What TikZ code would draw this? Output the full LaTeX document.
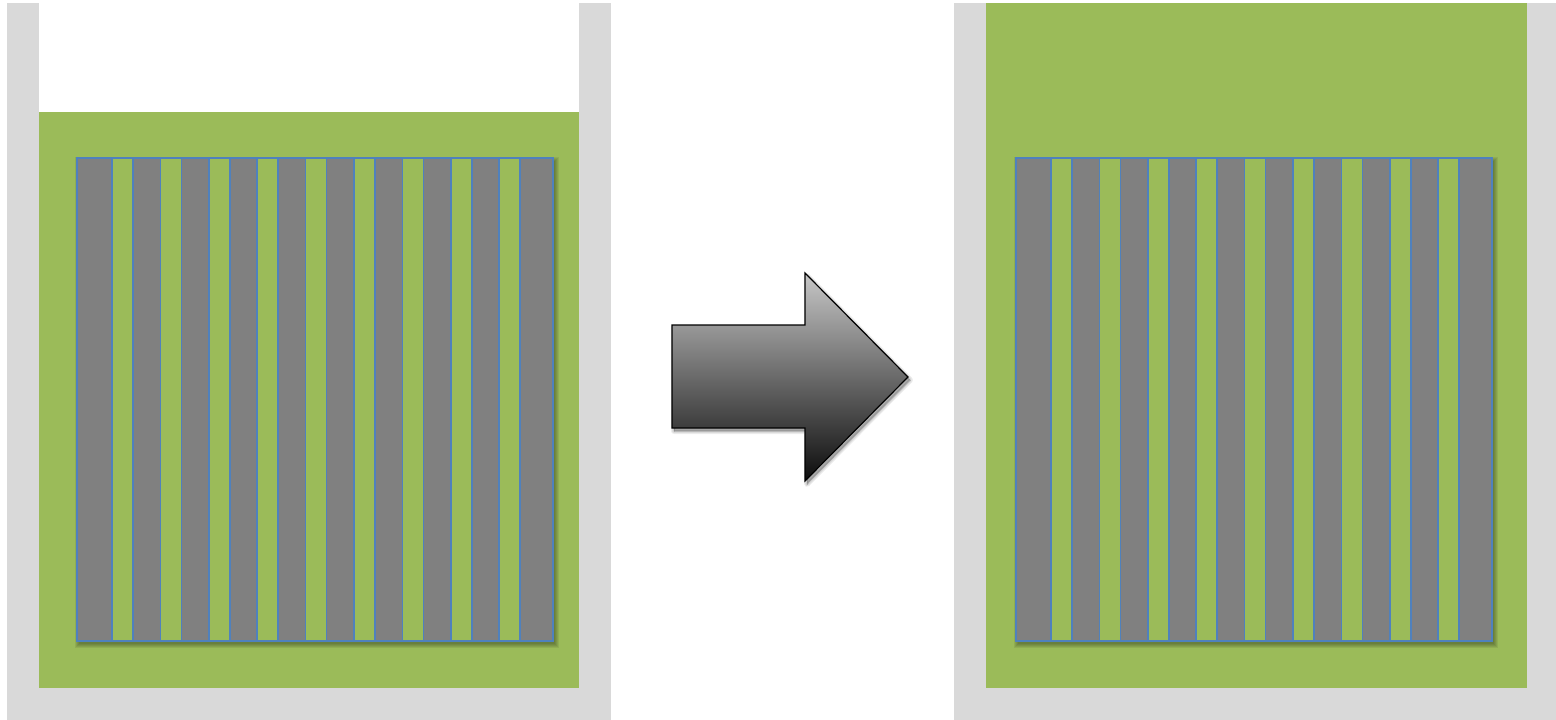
\documentclass[tikz,border=0pt]{standalone}
\definecolor{wallgray}{HTML}{D9D9D9}
\definecolor{leafgreen}{HTML}{9BBB59}
\definecolor{stripegray}{HTML}{808080}
\definecolor{edgeblue}{HTML}{4F81BD}
\begin{document}
\begin{tikzpicture}[x=1pt,y=-1pt,
  wall/.style={fill=wallgray},
  liquid/.style={fill=leafgreen},
  slab/.style={fill=stripegray, draw=edgeblue, line width=1.6pt},
  gapstripe/.style={fill=leafgreen, draw=edgeblue, line width=1.6pt},
  softshade/.style={fill=black, fill opacity=0.07},
  bigarrow/.style={top color=black!22, bottom color=black!95, draw=black, line width=1.2pt}]
\useasboundingbox (0,0) rectangle (1556,720);
% left container
\fill[wall] (7,3) rectangle (611,720);
\fill[white] (39,3) rectangle (579,688);
\fill[liquid] (39,112) rectangle (579,688);
% right container
\fill[wall] (954,3) rectangle (1558,720);
\fill[liquid] (986,3) rectangle (1527,688);
% stripe blocks
\foreach \ox in {0,939} {
  \foreach \b in {0,1,2,3,4} {
    \fill[softshade] ({79+\ox-\b},{161-\b}) rectangle ({555+\ox+\b},{644+\b});
  }
  \path[slab] (77+\ox,158) rectangle (553+\ox,641);
  \foreach \k in {0,...,8} {
    \draw[gapstripe] ({112+48.4*\k+\ox},158) rectangle ({133+48.4*\k+\ox},641);
  }
}
% arrow shadow
\foreach \b in {0,1,2,3} {
  \fill[softshade, line join=round, draw=black, draw opacity=0.07, line width={2*\b}]
    (674,328) -- (807,328) -- (807,276) -- (910,380) -- (807,484) -- (807,431) -- (674,431) -- cycle;
}
% arrow
\shade[bigarrow] (672,325) -- (805,325) -- (805,273) -- (908,377) -- (805,481) -- (805,428) -- (672,428) -- cycle;
\end{tikzpicture}
\end{document}
